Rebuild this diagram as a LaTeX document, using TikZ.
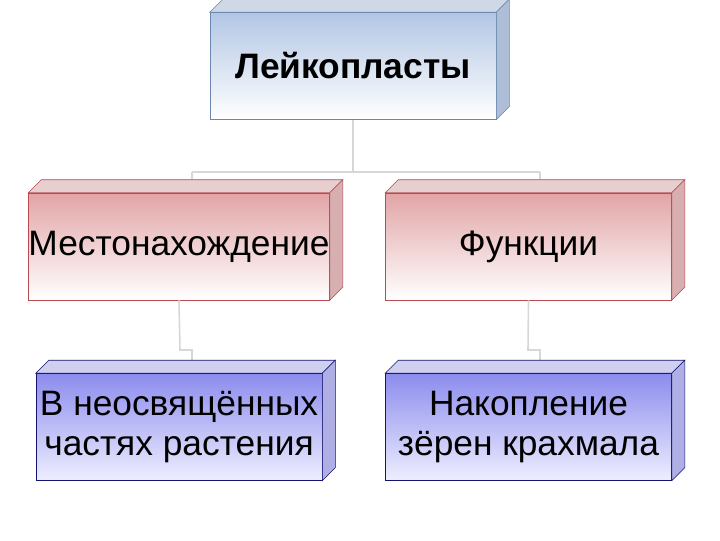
\documentclass[tikz,border=0pt]{standalone}
\usepackage{fontspec}
\setmainfont{Liberation Sans}
\definecolor{bTop}{RGB}{178,198,228}
\definecolor{bLine}{RGB}{105,135,175}
\definecolor{bSide}{RGB}{175,190,215}
\definecolor{rTop}{RGB}{226,164,166}
\definecolor{rLine}{RGB}{185,75,80}
\definecolor{rSide}{RGB}{215,175,177}
\definecolor{pTop}{RGB}{140,140,238}
\definecolor{pBot}{RGB}{238,238,255}
\definecolor{pLine}{RGB}{20,20,110}
\definecolor{pSide}{RGB}{175,175,230}
\definecolor{conn}{RGB}{215,215,215}
\tikzset{
  box/.style={minimum width=286*0.75pt, minimum height=107*0.75pt, inner sep=0pt, align=center, font=\fontsize{26.5}{30}\selectfont},
  topbox/.style={box, top color=bTop, bottom color=white, draw=bLine, font=\fontsize{26.5}{30}\selectfont\bfseries},
  redbox/.style={box, top color=rTop, bottom color=white, draw=rLine},
  bluebox/.style={box, top color=pTop, bottom color=pBot, draw=pLine},
  connector/.style={draw=conn, line width=1.2pt}
}
\newcommand{\depthfaces}[3]{%
  \fill[#2!60!white, draw=#3] (#1.north west) -- ++(13*0.75pt,13*0.75pt) -- ([shift={(13*0.75pt,13*0.75pt)}]#1.north east) -- (#1.north east) -- cycle;
  \fill[#2, draw=#3] (#1.north east) -- ++(13*0.75pt,13*0.75pt) -- ([shift={(13*0.75pt,13*0.75pt)}]#1.south east) -- (#1.south east) -- cycle;
}
\begin{document}
\begin{tikzpicture}[x=0.75pt,y=-0.75pt]
\useasboundingbox (0,0) rectangle (720,540);
\coordinate (j1) at (353,172);
\coordinate (jl) at (192,172);
\coordinate (jr) at (540,172);
\coordinate (jl2) at (192,180);
\coordinate (jr2) at (540,180);
\coordinate (kl1) at (180,350);
\coordinate (kl2) at (192,350);
\coordinate (kl3) at (192,360);
\coordinate (kr1) at (528,350);
\coordinate (kr2) at (540,350);
\coordinate (kr3) at (540,360);
\node[topbox] (top) at (353,66) {Лейкопласты};
\node[redbox] (loc) at (179,246.5) {Местонахождение};
\node[redbox] (fun) at (528.5,246.5) {Функции};
\node[bluebox] (where) at (179,427) {В неосвящённых\\частях растения};
\node[bluebox] (what) at (528.5,427) {Накопление\\зёрен крахмала};
\draw[connector] (top.south) -- (j1);
\draw[connector] (jl) -- (jr);
\draw[connector] (jl) -- (jl2);
\draw[connector] (jr) -- (jr2);
\draw[connector] (loc.south) -- (kl1) -- (kl2) -- (kl3);
\draw[connector] (fun.south) -- (kr1) -- (kr2) -- (kr3);
\depthfaces{top}{bSide}{bLine}
\depthfaces{loc}{rSide}{rLine}
\depthfaces{fun}{rSide}{rLine}
\depthfaces{where}{pSide}{pLine}
\depthfaces{what}{pSide}{pLine}
\end{tikzpicture}
\end{document}
